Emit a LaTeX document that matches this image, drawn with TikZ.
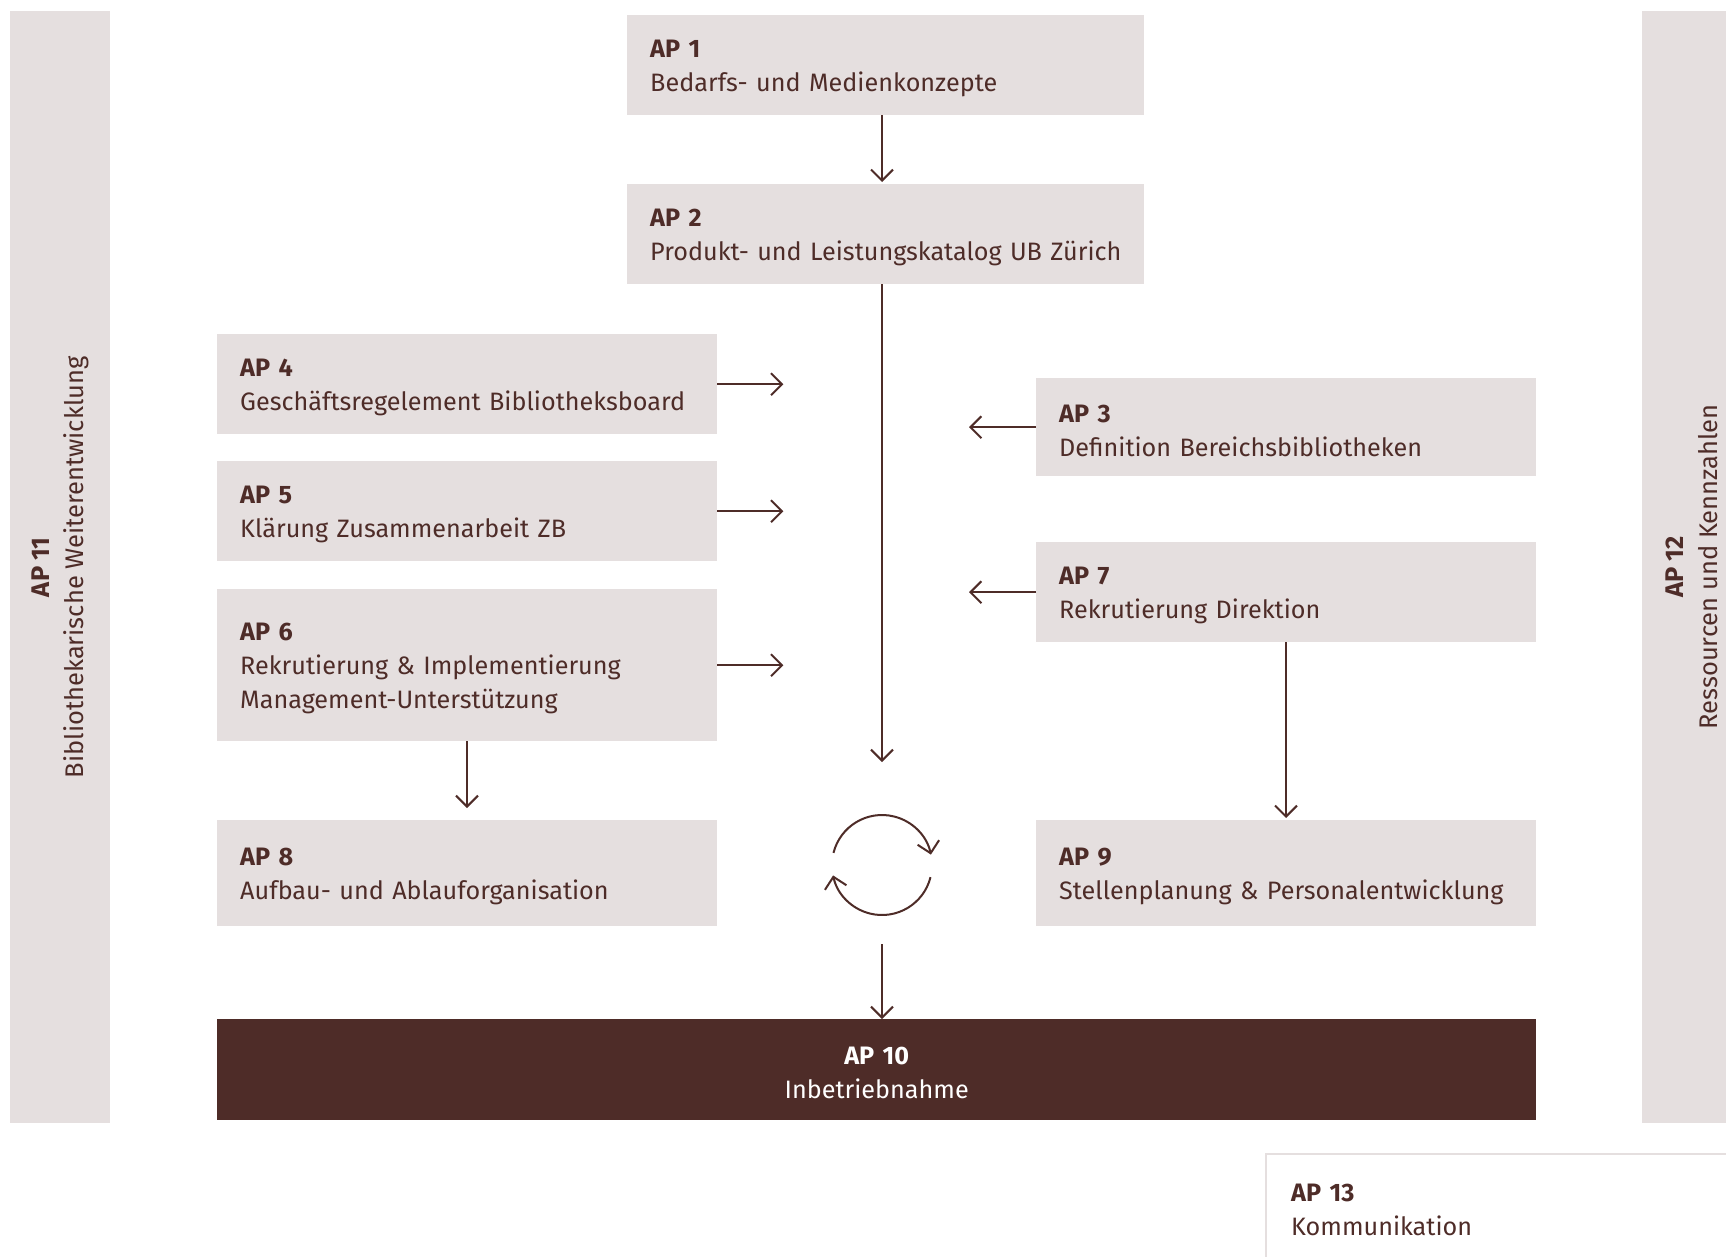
\documentclass[tikz,border=0pt]{standalone}
\usepackage{fontspec}
\setmainfont{Fira Sans}
\usetikzlibrary{arrows.meta}
\definecolor{boxgray}{HTML}{E5DFDF}
\definecolor{brn}{HTML}{4E2C28}
\newcommand{\tstrut}{\rule{0pt}{24.5pt}}
\begin{document}
\begin{tikzpicture}[x=1pt,y=-1pt,
  box/.style={fill=boxgray, text=brn, inner xsep=23pt, inner ysep=0pt, anchor=north west,
    align=left, minimum width=500pt, text width=454pt, minimum height=100pt,
    font=\fontsize{25.2}{34}\selectfont, execute at begin node=\tstrut},
  side/.style={fill=boxgray, inner sep=0pt, anchor=north west, minimum width=100pt, minimum height=1112pt},
  sidetxt/.style={rotate=90, text=brn, align=center, inner sep=0pt,
    font=\fontsize{25.5}{34}\selectfont, execute at begin node=\tstrut},
  conn/.style={draw=brn, line width=2pt, -{Straight Barb[length=11pt,width=22pt]}}]
\useasboundingbox (0,0) rectangle (1726,1256);
% side bars
\node[side] (ap11) at (10,11) {};
\node[sidetxt] (ap11t) at (ap11.center) {\textbf{AP 11}\\Bibliothekarische Weiterentwicklung};
\node[side, minimum width=84pt] (ap12) at (1642,11) {};
\node[sidetxt] (ap12t) at (1692,567) {\textbf{AP 12}\\Ressourcen und Kennzahlen};
% boxes
\node[box, minimum width=517pt, text width=471pt] (ap1) at (627,15) {\textbf{AP 1}\\Bedarfs- und Medienkonzepte};
\node[box, minimum width=517pt, text width=471pt] (ap2) at (627,184) {\textbf{AP 2}\\\mbox{Produkt- und Leistungskatalog UB Zürich}};
\node[box] (ap4) at (217,334) {\textbf{AP 4}\\Geschäftsregelement Bibliotheksboard};
\node[box] (ap5) at (217,461) {\textbf{AP 5}\\Klärung Zusammenarbeit ZB};
\node[box, minimum height=152pt] (ap6) at (217,589) {\textbf{AP 6}\\Rekrutierung \& Implementierung\\Management-Unterstützung};
\node[box, minimum height=106pt] (ap8) at (217,820) {\textbf{AP 8}\\Aufbau- und Ablauforganisation};
\node[box, minimum height=98pt] (ap3) at (1036,378) {\textbf{AP 3}\\Definition Bereichsbibliotheken};
\node[box] (ap7) at (1036,542) {\textbf{AP 7}\\Rekrutierung Direktion};
\node[box, minimum height=106pt] (ap9) at (1036,820) {\textbf{AP 9}\\Stellenplanung \& Personalentwicklung};
\node[box, fill=brn, text=white, align=center, minimum width=1319pt, text width=1273pt, minimum height=101pt] (ap10) at (217,1019) {\textbf{AP 10}\\Inbetriebnahme};
% AP 13
\node[box, fill=none, inner xsep=25pt, minimum width=460pt, text width=410pt, minimum height=104pt] (ap13) at (1266,1154) {\textbf{AP 13}\\Kommunikation};
\draw[boxgray, line width=2.5pt] (ap13.south west) |- (ap13.north east);
% coordinates
\coordinate (cyc) at (882,865);
\coordinate (c2) at (882,762);
\coordinate (c3) at (882,944);
% connectors
\draw[conn] (882,115) -- (882,182);
\draw[conn] (ap2.south -| cyc) -- (c2);
\draw[conn] (ap4.east) -- ++(66,0);
\draw[conn] (ap5.east) -- ++(66,0);
\draw[conn] (ap6.east) -- ++(66,0);
\draw[conn] (ap3.west) -- ++(-67,0);
\draw[conn] (ap7.west) -- ++(-67,0);
\draw[conn] (ap6.south -| 467,0) -- ([yshift=12pt]ap8.north -| 467,0);
\draw[conn] (ap7.south -| 1286,0) -- ([yshift=2pt]ap9.north -| 1286,0);
\draw[conn] (c3) -- (c3 |- ap10.north);
% cycle
\draw[conn] ([shift={(-166:50)}]cyc) arc[start angle=-166, end angle=-12, radius=50];
\draw[conn] ([shift={(14:50)}]cyc) arc[start angle=14, end angle=168, radius=50];
\end{tikzpicture}
\end{document}
